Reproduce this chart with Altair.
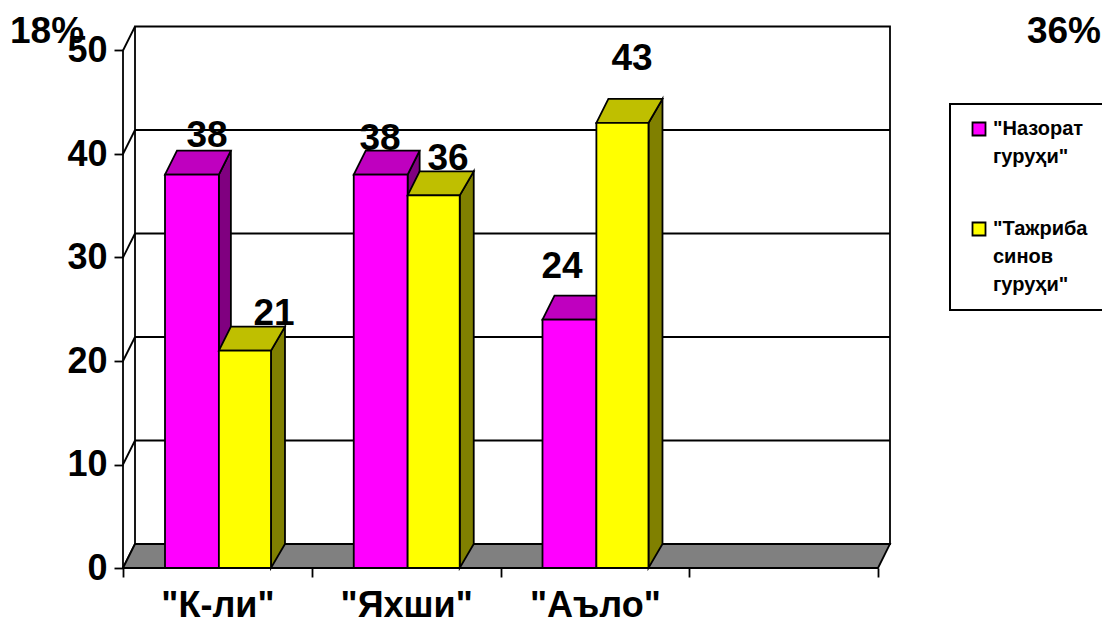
import json
import altair as alt
import pandas as pd

categories = ['"К-ли"', '"Яхши"', '"Аъло"']
series_names = ['"Назорат|гуруҳи"', '"Тажриба|синов|гуруҳи"']
control = [38, 38, 24]
experiment = [21, 36, 43]
y_ticks = [0, 10, 20, 30, 40, 50]
corner_texts = ["18%", "36%"]

FONT = "Liberation Sans"
LINE = 1.8
PX_X = 188.75      # pixels per category slot
PX_Y = 10.35       # pixels per value unit
DX = 12 / PX_X     # depth of the 3-D box
DY = 24 / PX_Y
DX_YEL = 14 / PX_X
W, H = 979, 560
xs = alt.Scale(domain=[0, W / PX_X], nice=False, zero=False)
ys = alt.Scale(domain=[0, H / PX_Y], nice=False, zero=False)

labels_js = json.dumps(categories + ["", ""], ensure_ascii=False)
x_axis = alt.Axis(values=[0, 1, 2, 3, 4], title=None, domain=False, grid=False,
                  labelExpr=f"{labels_js}[datum.value]", labelOffset=94.4, labelFont=FONT,
                  labelFontSize=36, labelFontWeight="bold", labelColor="black", labelPadding=11,
                  tickSize=9, tickWidth=LINE, tickColor="black", labelOverlap=False,
                  labelBound=False, labelFlush=False)
y_axis = alt.Axis(values=y_ticks, title=None, domain=False, grid=False, labelFont=FONT,
                  labelFontSize=36, labelFontWeight="bold", labelColor="black", labelPadding=7,
                  tickSize=9, tickWidth=LINE, tickColor="black", labelOverlap=False)


def X(f="x"):
    return alt.X(f"{f}:Q", scale=xs, axis=x_axis)


def Y(f="y"):
    return alt.Y(f"{f}:Q", scale=ys, axis=y_axis)


def poly_side(rows, pid, fill, x, v, dx=DX, base=0):
    rows.append(dict(id=pid, fill=fill, x=x, y=v, y2=base))
    rows.append(dict(id=pid, fill=fill, x=x + dx, y=v + DY, y2=base + DY))


def poly_top(rows, pid, fill, x0, x1, v, dxr=DX):
    rows.append(dict(id=pid, fill=fill, x=x0, y=v, y2=v))
    rows.append(dict(id=pid, fill=fill, x=x0 + DX, y=v + DY, y2=v))
    rows.append(dict(id=pid, fill=fill, x=x1, y=v + DY, y2=v))
    rows.append(dict(id=pid, fill=fill, x=x1 + dxr, y=v + DY, y2=v + DY))


def area_layer(rows):
    return alt.Chart(pd.DataFrame(rows)).mark_area(
        stroke="black", strokeWidth=LINE, orient="vertical", interpolate="linear", opacity=1
    ).encode(x=X(), y=Y(), y2="y2:Q", detail="id:N", fill=alt.Fill("fill:N", scale=None))


# back wall and gridlines
wall = alt.Chart(pd.DataFrame([dict(x=DX, x2=4 + DX, y=DY, y2=50 + DY)])).mark_rect(
    fill="white", stroke="black", strokeWidth=LINE
).encode(x=X(), x2="x2:Q", y=Y(), y2="y2:Q")
grid = alt.Chart(pd.DataFrame([dict(x=DX, x2=4 + DX, y=v + DY) for v in y_ticks[1:-1]])).mark_rule(
    color="black", strokeWidth=LINE
).encode(x=X(), x2="x2:Q", y=Y())
left_edge = alt.Chart(pd.DataFrame([dict(x=0, y=0, y2=50)])).mark_rule(
    color="black", strokeWidth=LINE
).encode(x=X(), y=Y(), y2="y2:Q")
slant_rows = []
for v in y_ticks:
    slant_rows += [dict(id=v, x=0, y=v), dict(id=v, x=DX, y=v + DY)]
slants = alt.Chart(pd.DataFrame(slant_rows)).mark_line(color="black", strokeWidth=LINE).encode(
    x=X(), y=Y(), detail="id:N"
)
floor_rows = []
poly_top(floor_rows, "floor", "#808080", 0, 4, 0)
floor = area_layer(floor_rows)

# bars
SLOT_L, SLOT_M, SLOT_R = 0.2225, 0.508, 0.784
color_scale = alt.Scale(domain=series_names, range=["#FF00FF", "#FFFF00"])
front_rows_a, front_rows_b, faces_a, faces_b = [], [], [], []
for i, (a, b) in enumerate(zip(control, experiment)):
    front_rows_a.append(dict(s=series_names[0], x=i + SLOT_L, x2=i + SLOT_M, y=a, y2=0))
    front_rows_b.append(dict(s=series_names[1], x=i + SLOT_M, x2=i + SLOT_R, y=b, y2=0))
    poly_side(faces_a, f"as{i}", "#800080", i + SLOT_M, a)
    poly_top(faces_a, f"at{i}", "#BF00BF", i + SLOT_L, i + SLOT_M, a)
    poly_side(faces_b, f"bs{i}", "#808000", i + SLOT_R, b, DX_YEL)
    poly_top(faces_b, f"bt{i}", "#BFBF00", i + SLOT_M, i + SLOT_R, b, DX_YEL)

legend = alt.Legend(orient="none", legendX=950 - 123, legendY=104 - 8, title=None, padding=15,
                    fillColor="white", strokeColor="black", labelFont=FONT, labelFontSize=20,
                    labelFontWeight="bold", labelColor="black", labelExpr="split(datum.label,'|')",
                    symbolType="square", symbolSize=169, symbolStrokeColor="black",
                    symbolStrokeWidth=LINE, labelLimit=400, rowPadding=51, labelOffset=4,
                    symbolOffset=4)


def front_layer(rows):
    return alt.Chart(pd.DataFrame(rows)).mark_rect(stroke="black", strokeWidth=LINE).encode(
        x=X(), x2="x2:Q", y=Y(), y2="y2:Q",
        color=alt.Color("s:N", scale=color_scale, sort=None, legend=legend),
    )


# value labels (nudged by hand as in the original, in pixels)
nudges_a = [(207 - 123, 147), (380 - 123, 150), (562 - 123, 278)]
nudges_b = [(274 - 123, 325), (448 - 123, 170), (632 - 123, 70)]
lab_rows = []
for vals, nudges in ((control, nudges_a), (experiment, nudges_b)):
    for v, (px, base) in zip(vals, nudges):
        lab_rows.append(dict(x=px / PX_X, y=(568 - base) / PX_Y, t=str(v)))
value_labels = alt.Chart(pd.DataFrame(lab_rows)).mark_text(
    font=FONT, fontSize=37, fontWeight="bold", color="black", baseline="alphabetic", align="center"
).encode(x=X(), y=Y(), text="t:N")

corner_a = alt.Chart(pd.DataFrame({"t": [corner_texts[0]]})).mark_text(
    font=FONT, fontSize=37, fontWeight="bold", color="black", align="left", baseline="alphabetic"
).encode(x=alt.value(10 - 123), y=alt.value(43 - 8), text="t:N")
corner_b = alt.Chart(pd.DataFrame({"t": [corner_texts[1]]})).mark_text(
    font=FONT, fontSize=37, fontWeight="bold", color="black", align="right", baseline="alphabetic"
).encode(x=alt.value(1101 - 123), y=alt.value(43 - 8), text="t:N")

chart = alt.layer(
    wall, grid, left_edge, slants, floor,
    area_layer(faces_a), front_layer(front_rows_a),
    area_layer(faces_b), front_layer(front_rows_b),
    value_labels, corner_a, corner_b,
).properties(
    width=W, height=H, padding={"left": 115, "top": 0, "right": 0, "bottom": 55},
    autosize=alt.AutoSizeParams(type="none"),
).configure_view(stroke=None).configure_legend(strokeWidth=2)
chart.config.style = {"guide-label": {"lineHeight": 28}}

chart.save("out.html", embed_options={"renderer": "svg", "actions": False})
